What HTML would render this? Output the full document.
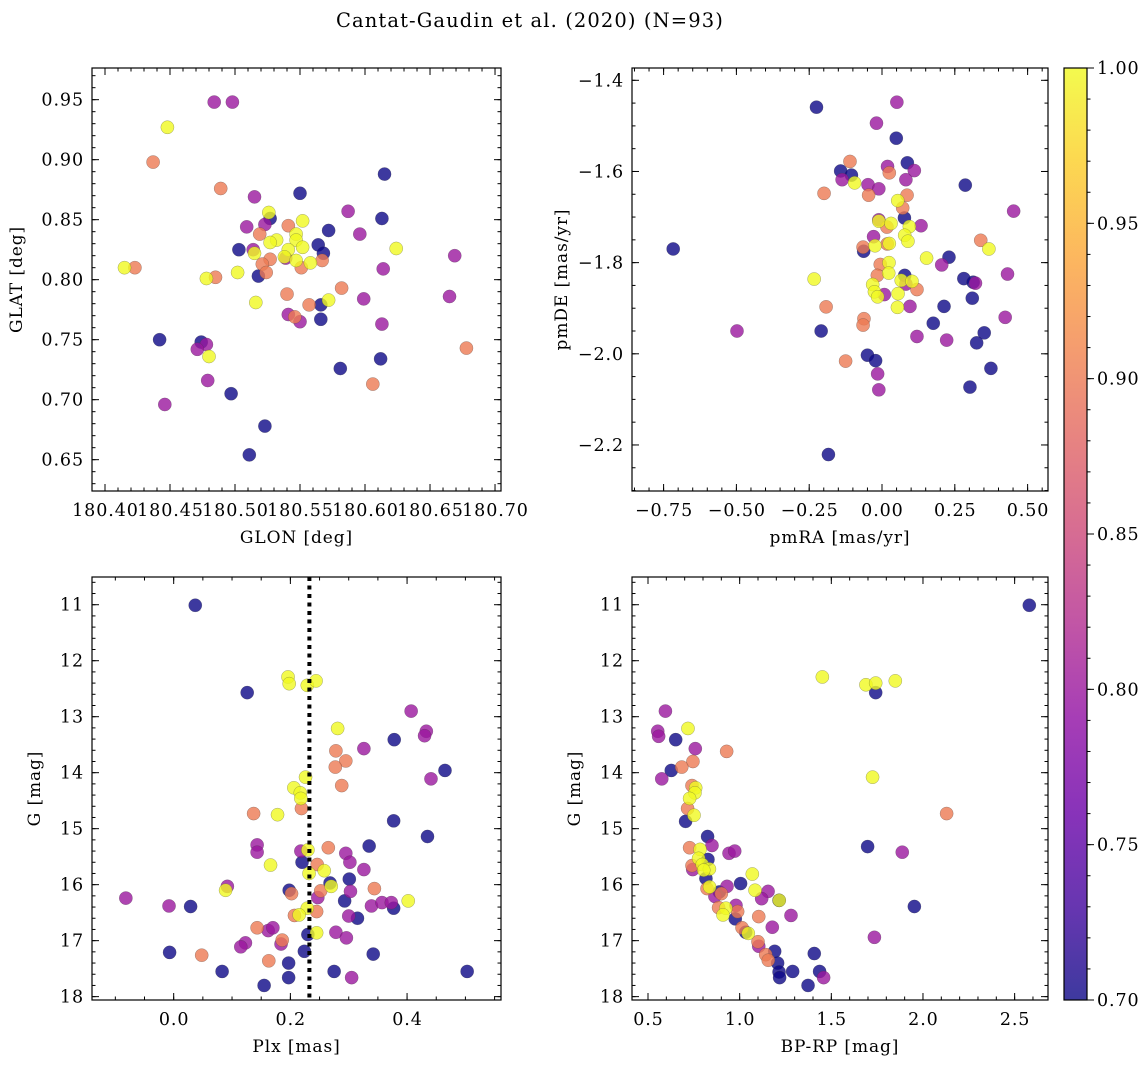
<!DOCTYPE html>
<html><head><meta charset="utf-8">
<style>
html,body{margin:0;padding:0;background:#fff;}
svg{display:block;font-family:"DejaVu Serif","Liberation Serif",serif;}
</style></head>
<body>
<svg id="fig" width="1148" height="1067" viewBox="0 0 1148 1067" xmlns="http://www.w3.org/2000/svg">
<defs>
<linearGradient id="plasma" x1="0" y1="1" x2="0" y2="0">
<stop offset="0" stop-color="#0d0887"/><stop offset="0.1" stop-color="#41049d"/><stop offset="0.2" stop-color="#6a00a8"/><stop offset="0.3" stop-color="#8f0da4"/><stop offset="0.4" stop-color="#b12a90"/><stop offset="0.5" stop-color="#cc4778"/><stop offset="0.6" stop-color="#e16462"/><stop offset="0.7" stop-color="#f2844b"/><stop offset="0.8" stop-color="#fca636"/><stop offset="0.9" stop-color="#fcce25"/><stop offset="1" stop-color="#f0f921"/>
</linearGradient>
</defs>
<text x="530" y="27" text-anchor="middle" font-size="19.5" letter-spacing="1.1">Cantat-Gaudin et al. (2020) (N=93)</text>
</svg>
<script>
// ---- Panel 1: GLON vs GLAT ----
const glon = [180.484,180.498,180.448,180.437,180.615,180.489,180.515,180.550,180.587,180.613,180.526,180.527,180.552,180.541,180.509,180.523,180.572,180.596,180.519,180.547,180.532,180.547,180.527,180.564,180.624,180.503,180.552,180.514,180.515,180.541,180.568,180.669,180.539,180.538,180.527,180.547,180.558,180.567,180.415,180.423,180.551,180.614,180.502,180.521,180.524,180.518,180.485,180.478,180.582,180.665,180.540,180.599,180.572,180.566,180.557,180.516,180.541,180.546,180.550,180.566,180.613,180.442,180.474,180.478,180.471,180.480,180.612,180.581,180.479,180.606,180.678,180.497,180.446,180.523,180.511];
const glat = [0.948,0.948,0.927,0.898,0.888,0.876,0.869,0.872,0.857,0.851,0.856,0.851,0.849,0.845,0.844,0.846,0.841,0.838,0.838,0.838,0.833,0.833,0.831,0.829,0.826,0.825,0.827,0.825,0.822,0.825,0.822,0.820,0.818,0.819,0.817,0.816,0.814,0.816,0.810,0.810,0.810,0.809,0.806,0.813,0.806,0.803,0.802,0.801,0.793,0.786,0.788,0.784,0.783,0.779,0.779,0.781,0.771,0.769,0.765,0.767,0.763,0.750,0.748,0.746,0.742,0.736,0.734,0.726,0.716,0.713,0.743,0.705,0.696,0.678,0.654];
const prob1 = [0.8,0.8,1,0.9,0.7,0.9,0.8,0.7,0.8,0.7,1,0.7,1,0.9,0.8,0.8,0.7,0.8,0.9,1,1,1,1,0.7,1,0.7,1,0.8,1,1,0.7,0.8,0.8,1,0.9,1,1,0.9,1,0.9,0.9,0.8,1,0.9,0.9,0.7,0.9,1,0.9,0.8,0.9,0.8,1,0.7,0.9,1,0.8,0.9,0.8,0.7,0.8,0.7,0.7,0.8,0.8,1,0.7,0.7,0.8,0.9,0.9,0.7,0.8,0.7,0.7];
// ---- Panel 2: pmRA vs pmDE ----
const pmra = [-0.225,0.051,-0.019,0.049,-0.110,0.087,0.019,0.025,0.111,-0.142,-0.105,-0.137,-0.094,0.082,-0.048,-0.011,0.286,-0.199,-0.046,0.086,0.054,0.071,0.452,0.077,-0.011,-0.011,0.017,0.031,0.134,0.094,0.078,0.089,0.339,0.367,-0.717,-0.029,-0.065,-0.063,-0.024,0.018,0.025,0.153,0.230,0.205,-0.006,0.024,-0.016,0.023,0.431,-0.233,0.078,0.066,0.103,0.082,0.281,0.321,0.313,0.120,-0.032,-0.026,0.008,0.055,-0.015,0.310,0.053,0.096,0.213,-0.192,0.423,0.176,-0.062,-0.065,-0.209,-0.498,0.351,0.120,0.222,0.325,-0.050,-0.022,-0.125,-0.015,0.374,0.302,-0.011,-0.184];
const pmde = [-1.459,-1.448,-1.494,-1.527,-1.578,-1.581,-1.589,-1.603,-1.598,-1.599,-1.608,-1.618,-1.625,-1.618,-1.629,-1.638,-1.630,-1.648,-1.652,-1.652,-1.664,-1.680,-1.687,-1.702,-1.706,-1.709,-1.722,-1.714,-1.719,-1.721,-1.740,-1.753,-1.751,-1.770,-1.770,-1.743,-1.766,-1.775,-1.763,-1.759,-1.758,-1.790,-1.788,-1.805,-1.804,-1.800,-1.828,-1.823,-1.825,-1.836,-1.828,-1.839,-1.841,-1.847,-1.835,-1.845,-1.843,-1.859,-1.848,-1.864,-1.870,-1.868,-1.875,-1.878,-1.898,-1.896,-1.896,-1.897,-1.920,-1.933,-1.923,-1.937,-1.950,-1.950,-1.954,-1.962,-1.970,-1.976,-2.003,-2.015,-2.016,-2.044,-2.032,-2.073,-2.079,-2.221];
const prob2 = [0.7,0.8,0.8,0.7,0.9,0.7,0.8,0.9,0.8,0.7,0.7,0.8,1,0.8,0.8,0.8,0.7,0.9,0.9,0.9,1,0.9,0.8,0.7,0.8,1,0.9,1,0.8,1,1,1,0.9,1,0.7,0.8,0.9,0.7,1,0.9,1,1,0.7,0.8,0.9,1,0.9,1,0.8,1,0.7,1,1,0.8,0.7,0.8,0.7,0.9,1,1,0.8,1,1,0.7,1,0.8,0.7,0.9,0.8,0.7,0.9,0.9,0.7,0.8,0.7,0.8,0.8,0.7,0.7,0.7,0.9,0.8,0.7,0.7,0.8,0.7];
// ---- Panel 3: Plx vs G ----
const plx = [0.037,0.126,0.196,0.198,0.229,0.244,0.407,0.281,0.433,0.430,0.378,0.326,0.278,0.295,0.277,0.465,0.441,0.288,0.226,0.206,0.217,0.218,0.219,0.137,0.178,0.377,0.435,0.143,0.143,0.265,0.335,0.218,0.230,0.220,0.295,0.302,0.166,0.246,0.258,0.326,0.232,0.301,0.268,0.270,0.092,0.089,0.198,0.202,0.252,0.247,0.303,0.344,-0.082,-0.008,0.029,0.293,0.339,0.357,0.373,0.377,0.402,0.229,0.245,0.207,0.215,0.300,0.315,0.143,0.162,0.170,0.230,0.245,0.278,0.296,0.186,0.184,0.123,0.115,-0.007,0.048,0.224,0.342,0.163,0.197,0.083,0.275,0.503,0.197,0.305,0.155];
const gmag3 = [11.01,12.57,12.29,12.41,12.44,12.36,12.90,13.21,13.26,13.34,13.41,13.57,13.61,13.79,13.90,13.96,14.11,14.23,14.08,14.27,14.36,14.46,14.64,14.73,14.75,14.86,15.14,15.29,15.42,15.34,15.31,15.40,15.38,15.60,15.44,15.60,15.65,15.64,15.75,15.73,15.80,15.90,15.97,16.03,16.03,16.10,16.10,16.16,16.11,16.23,16.12,16.07,16.24,16.38,16.39,16.29,16.38,16.32,16.32,16.42,16.29,16.42,16.48,16.55,16.54,16.56,16.60,16.77,16.82,16.77,16.89,16.86,16.85,16.95,16.99,17.06,17.04,17.11,17.21,17.26,17.19,17.24,17.36,17.40,17.55,17.55,17.55,17.66,17.66,17.80];
const prob3 = [0.7,0.7,1,1,1,1,0.8,1,0.8,0.8,0.7,0.8,0.9,0.9,0.9,0.7,0.8,0.9,1,1,1,1,0.9,0.9,1,0.7,0.7,0.8,0.8,0.9,0.7,0.8,1,0.7,0.8,0.8,1,0.9,1,0.8,1,0.7,0.7,1,0.8,1,0.7,0.9,0.9,0.8,0.8,0.9,0.8,0.8,0.7,0.7,0.8,0.8,0.8,0.7,1,1,0.9,0.9,1,0.8,0.7,0.9,0.8,0.8,0.7,1,0.8,0.8,0.9,0.8,0.8,0.8,0.7,0.9,0.7,0.7,0.9,0.7,0.7,0.7,0.7,0.7,0.8,0.7];
const plxRef = [0.2326];
// ---- Panel 4: BP-RP vs G ----
const bprp = [2.580,1.451,1.689,1.742,1.742,1.849,0.595,0.553,0.558,0.718,0.651,0.758,0.929,0.745,0.684,0.627,0.575,1.725,0.740,0.760,0.756,0.727,0.716,0.751,0.705,2.129,0.825,0.849,1.698,0.727,0.784,0.942,0.973,1.887,0.827,0.776,0.740,0.744,0.796,0.835,0.804,0.816,1.069,1.005,0.931,0.836,0.822,0.889,0.900,0.865,1.084,1.155,1.120,1.215,1.216,1.953,0.980,0.885,0.925,0.989,1.280,1.104,0.909,0.976,1.178,1.013,1.033,1.047,1.735,1.100,1.104,1.191,1.407,1.142,1.156,1.207,1.215,1.289,1.436,1.218,1.458,1.373];
const gmag4 = [11.01,12.29,12.43,12.40,12.57,12.36,12.90,13.26,13.35,13.21,13.41,13.57,13.62,13.80,13.90,13.96,14.11,14.08,14.23,14.27,14.36,14.46,14.64,14.76,14.87,14.73,15.14,15.30,15.32,15.34,15.37,15.44,15.40,15.42,15.55,15.53,15.66,15.73,15.64,15.72,15.74,15.89,15.81,15.98,16.03,16.04,16.07,16.13,16.16,16.21,16.10,16.12,16.25,16.28,16.28,16.39,16.37,16.41,16.42,16.48,16.55,16.57,16.54,16.61,16.76,16.77,16.85,16.87,16.94,17.02,17.10,17.19,17.23,17.25,17.35,17.40,17.56,17.55,17.55,17.66,17.66,17.80];
const prob4 = [0.7,1,1,1,0.7,1,0.8,0.8,0.8,1,0.7,0.8,0.9,0.9,0.9,0.7,0.8,1,0.9,1,1,1,0.9,1,0.7,0.9,0.7,0.8,0.7,0.9,1,0.8,0.8,0.8,0.7,1,0.9,0.8,1,1,1,0.7,1,0.7,0.8,1,0.9,0.7,0.9,0.8,1,0.8,0.8,0.7,1,0.7,0.8,0.9,1,0.9,0.8,0.9,1,0.7,0.8,0.9,0.7,1,0.8,0.9,0.8,0.7,0.7,0.9,0.9,0.7,0.7,0.7,0.7,0.7,0.8,0.7];
// ---- Tick labels ----
const p1XTicks = [180.40,180.45,180.50,180.55,180.60,180.65,180.70];
const p1YTicks = [0.65,0.70,0.75,0.80,0.85,0.90,0.95];
const p2XTicks = [-0.75,-0.50,-0.25,0.00,0.25,0.50];
const p2YTicks = [-1.4,-1.6,-1.8,-2.0,-2.2];
const p3XTicks = [0.0,0.2,0.4];
const gTicks = [11,12,13,14,15,16,17,18];
const p4XTicks = [0.5,1.0,1.5,2.0,2.5];
const cbTicks = [0.70,0.75,0.80,0.85,0.90,0.95,1.00];

const NS="http://www.w3.org/2000/svg";
const svg=document.getElementById('fig');
const TF=17.5, LF=17, TLS=0.9, LLS=0.9;
function mk(tag,attrs,parent){const e=document.createElementNS(NS,tag);for(const k in attrs)e.setAttribute(k,attrs[k]);(parent||svg).appendChild(e);return e;}
const stops=[[0,[13,8,135]],[0.1,[65,4,157]],[0.2,[106,0,168]],[0.3,[143,13,164]],[0.4,[177,42,144]],[0.5,[204,71,120]],[0.6,[225,100,98]],[0.7,[242,132,75]],[0.8,[252,166,54]],[0.9,[252,206,37]],[1,[240,249,33]]];
function plasma(t){t=Math.max(0,Math.min(1,t));for(let i=1;i<stops.length;i++){if(t<=stops[i][0]){const a=stops[i-1],b=stops[i];const f=(t-a[0])/(b[0]-a[0]);const c=a[1].map((v,j)=>Math.round(v+(b[1][j]-v)*f));return `rgb(${c[0]},${c[1]},${c[2]})`;}}return 'rgb(240,249,33)';}
function fmtMinus(s){return s.replace('-','\u2212');}

function panel(cfg){
  const g=mk('g',{});
  
  
  const sx=v=>cfg.x0+(v-cfg.xmin)/(cfg.xmax-cfg.xmin)*(cfg.x1-cfg.x0);
  const sy=cfg.invert? (v=>cfg.y0+(v-cfg.ymin)/(cfg.ymax-cfg.ymin)*(cfg.y1-cfg.y0)) : (v=>cfg.y1-(v-cfg.ymin)/(cfg.ymax-cfg.ymin)*(cfg.y1-cfg.y0));
  const n=Math.min(cfg.xs.length,cfg.ys.length,cfg.ps.length);
  const idx=[...Array(n).keys()].sort((a,b)=>cfg.ps[a]-cfg.ps[b]);
  const pg=mk('g',{},g);
  
  
  idx.forEach(i=>{
    const c=mk('circle',{cx:sx(cfg.xs[i]),cy:sy(cfg.ys[i]),r:6.6,fill:plasma((cfg.ps[i]-0.7)/0.3),'fill-opacity':0.8,stroke:'rgba(60,60,60,0.45)','stroke-width':0.5},pg);
    
    
  });
  if(cfg.vline){cfg.vline.forEach(v=>{const l=mk('line',{x1:sx(v),x2:sx(v),y1:cfg.y0,y2:cfg.y1,stroke:'#000','stroke-width':4,'stroke-dasharray':'4 4.5'},g);
    
    });}
  const fr=mk('rect',{x:cfg.x0,y:cfg.y0,width:cfg.x1-cfg.x0,height:cfg.y1-cfg.y0,fill:'none',stroke:'#000','stroke-width':1.2},g);
  
  
  const tk=mk('g',{stroke:'#000','stroke-width':1},g);
  const xmaj=cfg.xticks, ymaj=cfg.yticks;
  function xt(v,len){const X=sx(v);if(X<cfg.x0-0.5||X>cfg.x1+0.5)return;mk('line',{x1:X,x2:X,y1:cfg.y1,y2:cfg.y1-len},tk);mk('line',{x1:X,x2:X,y1:cfg.y0,y2:cfg.y0+len},tk);}
  function yt(v,len){const Y=sy(v);if(Y<cfg.y0-0.5||Y>cfg.y1+0.5)return;mk('line',{x1:cfg.x0,x2:cfg.x0+len,y1:Y,y2:Y},tk);mk('line',{x1:cfg.x1,x2:cfg.x1-len,y1:Y,y2:Y},tk);}
  for(let v=Math.ceil(cfg.xmin/cfg.xminor)*cfg.xminor;v<=cfg.xmax;v+=cfg.xminor)xt(v,3.5);
  for(let v=Math.ceil(cfg.ymin/cfg.yminor)*cfg.yminor;v<=cfg.ymax;v+=cfg.yminor)yt(v,3.5);
  xmaj.forEach(v=>xt(v,7)); ymaj.forEach(v=>yt(v,7));
  xmaj.forEach(v=>{const t=mk('text',{x:sx(v)+TLS/2,y:cfg.y1+25,'text-anchor':'middle','font-size':TF,'letter-spacing':TLS},g);t.textContent=fmtMinus(v.toFixed(cfg.xdec));
    
    });
  ymaj.forEach(v=>{const t=mk('text',{x:cfg.x0-8,y:sy(v)+6,'text-anchor':'end','font-size':TF,'letter-spacing':TLS},g);t.textContent=fmtMinus(v.toFixed(cfg.ydec));
    
    });
  const xl=mk('text',{x:(cfg.x0+cfg.x1)/2,y:cfg.y1+52,'text-anchor':'middle','font-size':LF,'letter-spacing':LLS},g);xl.textContent=cfg.xlabel;
  
  
  const yl=mk('text',{x:cfg.ylx,y:(cfg.y0+cfg.y1)/2,'text-anchor':'middle','font-size':LF,'letter-spacing':LLS,transform:`rotate(-90 ${cfg.ylx} ${(cfg.y0+cfg.y1)/2})`},g);yl.textContent=cfg.ylabel;
  
  
}
panel({name:'glon-glat-panel',x0:92,x1:501,y0:68,y1:491,xmin:180.390,xmax:180.7046,ymin:0.6239,ymax:0.9764,xs:glon,ys:glat,ps:prob1,xticks:p1XTicks,yticks:p1YTicks,xminor:0.01,yminor:0.01,xdec:2,ydec:2,xlabel:'GLON [deg]',ylabel:'GLAT [deg]',ylx:22});
panel({name:'pm-panel',x0:632,x1:1048,y0:68,y1:491,xmin:-0.8585,xmax:0.570,ymin:-2.301,ymax:-1.373,xs:pmra,ys:pmde,ps:prob2,xticks:p2XTicks,yticks:p2YTicks,xminor:0.05,yminor:0.05,xdec:2,ydec:1,xlabel:'pmRA [mas/yr]',ylabel:'pmDE [mas/yr]',ylx:567});
panel({name:'plx-g-panel',x0:92,x1:501,y0:577,y1:1000,xmin:-0.140,xmax:0.561,ymin:10.505,ymax:18.06,invert:true,xs:plx,ys:gmag3,ps:prob3,xticks:p3XTicks,yticks:gTicks,xminor:0.05,yminor:0.2,xdec:1,ydec:0,xlabel:'Plx [mas]',ylabel:'G [mag]',ylx:40,vline:plxRef});
panel({name:'cmd-panel',x0:632,x1:1048,y0:577,y1:1000,xmin:0.4127,xmax:2.682,ymin:10.505,ymax:18.06,invert:true,xs:bprp,ys:gmag4,ps:prob4,xticks:p4XTicks,yticks:gTicks,xminor:0.1,yminor:0.2,xdec:1,ydec:0,xlabel:'BP-RP [mag]',ylabel:'G [mag]',ylx:580});

const cb=mk('g',{});


const cy=v=>1000-(v-0.70)/0.30*932;
mk('rect',{x:1064,y:68,width:23,height:932,fill:'url(#plasma)','fill-opacity':0.8},cb);
mk('rect',{x:1064,y:68,width:23,height:932,fill:'none',stroke:'#000','stroke-width':1.2},cb);
for(let v=0.70;v<=1.0001;v+=0.01){mk('line',{x1:1087,x2:1090.5,y1:cy(v),y2:cy(v),stroke:'#000','stroke-width':1},cb);}
cbTicks.forEach(v=>{mk('line',{x1:1087,x2:1094,y1:cy(v),y2:cy(v),stroke:'#000','stroke-width':1},cb);
  const t=mk('text',{x:1097,y:cy(v)+6,'font-size':TF,'letter-spacing':TLS},cb);t.textContent=v.toFixed(2);
  
  });
</script>
</body></html>
